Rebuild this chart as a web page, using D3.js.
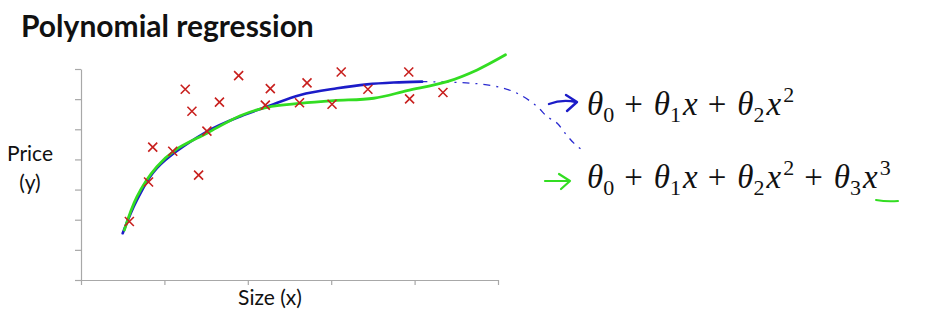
<!DOCTYPE html>
<html><head><meta charset="utf-8">
<script src="https://cdn.jsdelivr.net/npm/d3@7"></script>
<style>body{margin:0;background:#fff} svg{display:block}</style>
</head><body><svg id="c" width="926" height="315"></svg>
<script>
// ---- data (arbitrary units) ----
const xTicks = [0, 1, 2, 3, 4, 5];
const yTicks = [0, 1, 2, 3, 4, 5, 6, 7];
const sizeX  = [0.58, 0.81, 0.86, 1.10, 1.25, 1.33, 1.41, 1.51, 1.66, 1.89, 2.21, 2.27, 2.62, 2.71, 3.01, 3.12, 3.44, 3.93, 3.94, 4.34];
const priceY = [1.94, 3.25, 4.41, 4.27, 6.33, 5.60, 3.48, 4.94, 5.90, 6.78, 5.80, 6.35, 5.88, 6.54, 5.83, 6.90, 6.33, 6.90, 6.01, 6.22];
const quadX  = [0.50, 0.67, 0.91, 1.51, 1.95, 2.23, 2.63, 3.07, 3.43, 3.75, 4.09];
const quadY  = [1.55, 2.65, 3.71, 4.92, 5.47, 5.75, 6.14, 6.36, 6.49, 6.55, 6.58];
const quadExtX = [4.07, 4.47, 4.79, 5.07, 5.27, 5.47, 5.59, 5.71, 5.79, 5.91, 6.03];
const quadExtY = [6.58, 6.56, 6.50, 6.36, 6.14, 5.75, 5.42, 5.20, 4.92, 4.54, 4.26];
const cubicX = [0.52, 0.67, 0.91, 1.13, 1.51, 1.91, 2.23, 2.63, 3.03, 3.51, 3.91, 4.39, 4.75, 5.09];
const cubicY = [1.66, 2.76, 3.76, 4.31, 4.87, 5.45, 5.73, 5.86, 5.95, 6.03, 6.28, 6.58, 6.97, 7.47];
const titleText = "Polynomial regression";
const yLabel = ["Price", "(y)"];
const xLabel = "Size (x)";
const quadTerms  = [{sub: "0", pow: 0}, {sub: "1", pow: 1}, {sub: "2", pow: 2}];
const cubicTerms = [{sub: "0", pow: 0}, {sub: "1", pow: 1}, {sub: "2", pow: 2}, {sub: "3", pow: 3}];

const svg = d3.select("#c");
const x = d3.scaleLinear().domain([0, 5]).range([81, 498]);
const y = d3.scaleLinear().domain([0, 7]).range([280, 69]);

// axes
const axisColor = "#a8a8a8";
const gx = svg.append("g").attr("transform", "translate(0,280)")
  .call(d3.axisBottom(x).tickValues(xTicks).tickSize(5).tickSizeOuter(0).tickFormat(""));
const gy = svg.append("g").attr("transform", "translate(81,0)")
  .call(d3.axisLeft(y).tickValues(yTicks).tickSize(6).tickSizeOuter(0).tickFormat(""));
[gx, gy].forEach(g => { g.selectAll("path,line").attr("stroke", axisColor).attr("stroke-width", 1.2); });

// title and labels
const sans = "Lato, 'Open Sans', sans-serif";
svg.append("text").attr("x", 21).attr("y", 37).style("font-family", sans)
  .attr("font-weight", "bold").attr("font-size", 30).attr("fill", "#111").text(titleText);
svg.append("g").selectAll("text").data(yLabel).join("text")
  .attr("x", 30).attr("y", (d, i) => 161 + i * 29).attr("text-anchor", "middle")
  .style("font-family", sans).attr("font-size", 21).attr("fill", "#111").text(d => d);
svg.append("text").attr("x", 270).attr("y", 305).attr("text-anchor", "middle")
  .style("font-family", sans).attr("font-size", 21).attr("fill", "#111").text(xLabel);

// curves
const line = d3.line().x(d => x(d[0])).y(d => y(d[1])).curve(d3.curveCatmullRom.alpha(0.5));
svg.append("path").datum(d3.zip(quadExtX, quadExtY)).attr("d", line)
  .attr("fill", "none").attr("stroke", "#2a2ad0").attr("stroke-width", 1.3).attr("stroke-dasharray", "7,6,2,6");
svg.append("path").datum(d3.zip(quadX, quadY)).attr("d", line)
  .attr("fill", "none").attr("stroke", "#1c1cc8").attr("stroke-width", 2.6).attr("stroke-linecap", "round");
svg.append("path").datum(d3.zip(cubicX, cubicY)).attr("d", line)
  .attr("fill", "none").attr("stroke", "#33dd22").attr("stroke-width", 2.8).attr("stroke-linecap", "round");

// crosses
const r = 4.5;
const pts = svg.append("g").selectAll("g").data(d3.zip(sizeX, priceY)).join("g")
  .attr("transform", d => `translate(${x(d[0])},${y(d[1])})`);
pts.append("path").attr("d", `M${-r},${-r}L${r},${r}M${-r},${r}L${r},${-r}`)
  .attr("stroke", "#c8201e").attr("stroke-width", 1.6).attr("fill", "none");

// formulas: each piece flows after the previous one
const serif = '"Liberation Serif", "Times New Roman", serif';
function formula(x0, base, terms) {
  const g = svg.append("g").attr("fill", "#111");
  let cx = x0;
  const put = (txt, size, italic, dy, gapBefore) => {
    cx += gapBefore;
    const t = g.append("text").attr("x", cx).attr("y", base + dy)
      .style("font-family", serif).attr("font-size", size)
      .attr("font-style", italic ? "italic" : "normal").text(txt);
    cx += t.node().getComputedTextLength();
  };
  terms.forEach((term, i) => {
    if (i > 0) put("+", 33, false, 0, 10);
    put("θ", 33, true, 0, i > 0 ? 11 : 0);
    put(term.sub, 22, false, 7, 0);
    if (term.pow >= 1) put("x", 33, true, 0, 2);
    if (term.pow > 1) put(String(term.pow), 22, false, -13, 2);
  });
}
formula(587, 115, quadTerms);
formula(587, 188, cubicTerms);

// hand-drawn arrows / underline
const ann = svg.append("g").attr("fill", "none").attr("stroke-linecap", "round").attr("stroke-linejoin", "round");
ann.append("path").attr("d", "M549,104 Q562,99 576,102 M566,95 L577,102 L567,111")
  .attr("stroke", "#1c1cc8").attr("stroke-width", 2.4);
ann.append("path").attr("d", "M545,181 L570,181 M559,174 L570,181 L561,189")
  .attr("stroke", "#33dd22").attr("stroke-width", 2.2);
ann.append("path").attr("d", "M876,200 Q887,202 898,201")
  .attr("stroke", "#33dd22").attr("stroke-width", 2);
</script></body></html>
